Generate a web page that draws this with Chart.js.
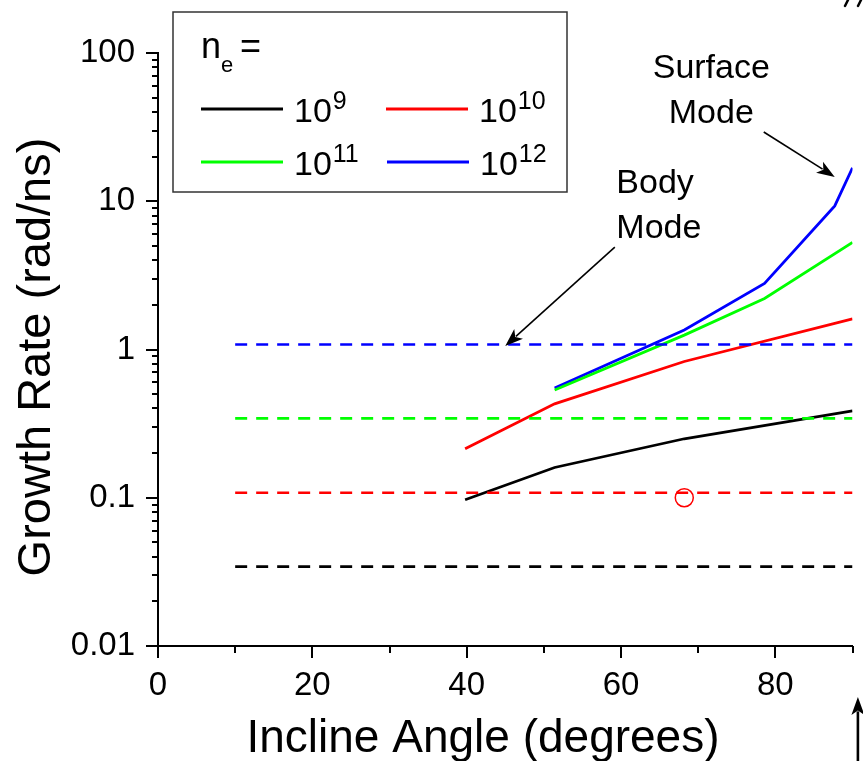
<!DOCTYPE html>
<html>
<head>
<meta charset="utf-8">
<script src="https://cdn.jsdelivr.net/npm/chart.js@4.4.0/dist/chart.umd.min.js"></script>
<style>
html, body { margin: 0; padding: 0; background: #fff; overflow: hidden; }
</style>
</head>
<body>
<canvas id="growthChart" width="863" height="761"></canvas>
<script>
// Growth rate curves (solid) per electron density
const angles9 = [39.8, 51.4, 68.2, 90];
const rates9 = [0.097, 0.16, 0.25, 0.385];
const angles10 = [39.8, 51.4, 68.2, 90];
const rates10 = [0.214, 0.43, 0.83, 1.61];
const angles11 = [51.4, 68.2, 78.6, 90];
const rates11 = [0.533, 1.25, 2.21, 5.27];
const angles12 = [51.4, 68.2, 78.6, 87.7, 90];
const rates12 = [0.55, 1.354, 2.79, 9.3, 16.8];

// Body mode levels (dashed), one per density
const bodyAngles = [10, 90];
const bodyRates = [0.0343, 0.108, 0.343, 1.08];

// Single open marker
const markerAngles = [68.2];
const markerRates = [0.1];

const densityExps = ['9', '10', '11', '12'];
const lineColors = ['#000000', '#ff0000', '#00ff00', '#0000ff'];

const xMajorTicks = [0, 20, 40, 60, 80];
const xMinorTicks = [10, 30, 50, 70, 90];
const yMajorTicks = [0.01, 0.1, 1, 10, 100];

const FONT = '"Liberation Sans", Arial, Helvetica, sans-serif';

function pts(xs, ys) {
    return xs.map((x, i) => ({ x: x, y: ys[i] }));
}

const solidSets = [
    pts(angles9, rates9),
    pts(angles10, rates10),
    pts(angles11, rates11),
    pts(angles12, rates12)
];

const datasets = [];
bodyRates.forEach((r, i) => {
    datasets.push({
        data: pts(bodyAngles, [r, r]),
        borderColor: lineColors[i],
        borderWidth: 2.6,
        borderDash: [12, 9],
        pointRadius: 0,
        showLine: true
    });
});
solidSets.forEach((d, i) => {
    datasets.push({
        data: d,
        borderColor: lineColors[i],
        borderWidth: 2.8,
        pointRadius: 0,
        showLine: true
    });
});
datasets.push({
    data: pts(markerAngles, markerRates),
    showLine: false,
    pointRadius: 9,
    pointStyle: 'circle',
    pointBorderColor: '#ff0000',
    pointBackgroundColor: 'rgba(0,0,0,0)',
    pointBorderWidth: 1.5
});

// Annotations in data coordinates
const annotations = [
    { lines: ['Surface', 'Mode'], x: 71.7, ys: [67.7, 33.7], align: 'center' },
    { lines: ['Body', 'Mode'], x: 59.4, ys: [11.4, 5.65], align: 'left' }
];
const arrows = [
    { from: [78.5, 29.3], to: [87.7, 14.6], width: 1.6 },
    { from: [59.2, 4.91], to: [45.0, 1.056], width: 1.6 },
    { from: [90.7, 0.00167], to: [90.7, 0.00453], width: 2.6 }
];

function drawArrow(ctx, x1, y1, x2, y2) {
    const ang = Math.atan2(y2 - y1, x2 - x1);
    const head = 18, half = 6.5;
    ctx.beginPath();
    ctx.moveTo(x1, y1);
    ctx.lineTo(x2 - Math.cos(ang) * head * 0.8, y2 - Math.sin(ang) * head * 0.8);
    ctx.stroke();
    ctx.beginPath();
    ctx.moveTo(x2, y2);
    ctx.lineTo(x2 - Math.cos(ang) * head + Math.sin(ang) * half, y2 - Math.sin(ang) * head - Math.cos(ang) * half);
    ctx.lineTo(x2 - Math.cos(ang) * head * 0.75, y2 - Math.sin(ang) * head * 0.75);
    ctx.lineTo(x2 - Math.cos(ang) * head - Math.sin(ang) * half, y2 - Math.sin(ang) * head + Math.cos(ang) * half);
    ctx.closePath();
    ctx.fill();
}

function drawPow(ctx, x, baseline, base, exp) {
    ctx.font = '34px ' + FONT;
    ctx.textAlign = 'left';
    ctx.fillText(base, x, baseline);
    const w = ctx.measureText(base).width;
    ctx.font = '25px ' + FONT;
    ctx.fillText(exp, x + w + 1, baseline - 13);
}

const decorPlugin = {
    id: 'decor',
    afterDraw(chart) {
        const ctx = chart.ctx;
        const xs = chart.scales.x, ys = chart.scales.y;
        const area = chart.chartArea;
        ctx.save();
        ctx.strokeStyle = '#000';
        ctx.fillStyle = '#000';
        ctx.lineWidth = 2;

        // y ticks: majors and minors, outward
        ctx.beginPath();
        yMajorTicks.forEach(v => {
            const y = Math.round(ys.getPixelForValue(v));
            ctx.moveTo(area.left - 12, y);
            ctx.lineTo(area.left, y);
        });
        for (let d = -2; d < 2; d++) {
            for (let m = 2; m <= 9; m++) {
                const y = Math.round(ys.getPixelForValue(m * Math.pow(10, d)));
                ctx.moveTo(area.left - 6, y);
                ctx.lineTo(area.left, y);
            }
        }
        // x ticks
        xMajorTicks.forEach(v => {
            const x = Math.round(xs.getPixelForValue(v));
            ctx.moveTo(x, area.bottom);
            ctx.lineTo(x, area.bottom + 12);
        });
        xMinorTicks.forEach(v => {
            const x = Math.round(xs.getPixelForValue(v));
            ctx.moveTo(x, area.bottom);
            ctx.lineTo(x, area.bottom + 7);
        });
        ctx.stroke();

        // axis titles
        ctx.textAlign = 'center';
        ctx.textBaseline = 'alphabetic';
        ctx.font = '46px ' + FONT;
        ctx.fillText('Incline Angle (degrees)', 483, 752);
        ctx.save();
        ctx.translate(50, 357);
        ctx.rotate(-Math.PI / 2);
        ctx.font = '47px ' + FONT;
        ctx.fillText('Growth Rate (rad/ns)', 0, 0);
        ctx.restore();

        // legend box
        ctx.lineWidth = 1.5;
        ctx.strokeStyle = '#333';
        ctx.strokeRect(173, 12, 394, 180);
        ctx.font = '36px ' + FONT;
        ctx.textAlign = 'left';
        ctx.fillText('n', 201, 58);
        ctx.font = '22px ' + FONT;
        ctx.fillText('e', 221, 72);
        ctx.font = '36px ' + FONT;
        ctx.fillText('=', 240, 58);
        const slots = [[201, 109], [386, 109], [201, 162], [387, 162]];
        slots.forEach((s, i) => {
            ctx.strokeStyle = lineColors[i];
            ctx.lineWidth = 2.8;
            ctx.beginPath();
            ctx.moveTo(s[0], s[1]);
            ctx.lineTo(s[0] + 82, s[1]);
            ctx.stroke();
            ctx.fillStyle = '#000';
            drawPow(ctx, s[0] + 93, s[1] + 13, '10', densityExps[i]);
        });

        // annotations
        ctx.fillStyle = '#000';
        ctx.strokeStyle = '#000';
        ctx.font = '34px ' + FONT;
        annotations.forEach(a => {
            ctx.textAlign = a.align;
            a.lines.forEach((t, i) => {
                ctx.fillText(t, xs.getPixelForValue(a.x), ys.getPixelForValue(a.ys[i]));
            });
        });
        arrows.forEach(a => {
            ctx.lineWidth = a.width;
            drawArrow(ctx,
                xs.getPixelForValue(a.from[0]), ys.getPixelForValue(a.from[1]),
                xs.getPixelForValue(a.to[0]), ys.getPixelForValue(a.to[1]));
        });
        ctx.lineWidth = 2.5;
        ctx.lineCap = 'round';
        ctx.beginPath();
        ctx.moveTo(848, 0); ctx.lineTo(845, 6);
        ctx.moveTo(861, 0); ctx.lineTo(858, 6);
        ctx.stroke();
        ctx.restore();
    }
};

new Chart(document.getElementById('growthChart'), {
    type: 'line',
    data: { datasets: datasets },
    options: {
        responsive: false,
        animation: false,
        layout: { padding: { left: 0, top: 53, right: 7, bottom: 0 } },
        plugins: { legend: { display: false }, tooltip: { enabled: false } },
        scales: {
            x: {
                type: 'linear',
                min: 0,
                max: 90,
                afterFit: s => { s.height = 115; },
                afterBuildTicks: s => { s.ticks = xMajorTicks.map(v => ({ value: v })); },
                grid: { display: false, drawTicks: false },
                border: { display: true, color: '#000', width: 2 },
                ticks: {
                    padding: 20,
                    color: '#000',
                    maxRotation: 0,
                    autoSkip: false,
                    font: { family: FONT, size: 33 }
                }
            },
            y: {
                type: 'logarithmic',
                min: 0.01,
                max: 100,
                afterFit: s => { s.width = 158; },
                afterBuildTicks: s => { s.ticks = yMajorTicks.map(v => ({ value: v })); },
                grid: { display: false, drawTicks: false },
                border: { display: true, color: '#000', width: 2 },
                ticks: {
                    padding: 23,
                    color: '#000',
                    autoSkip: false,
                    font: { family: FONT, size: 33 },
                    callback: v => String(v)
                }
            }
        }
    },
    plugins: [decorPlugin]
});
</script>
</body>
</html>
